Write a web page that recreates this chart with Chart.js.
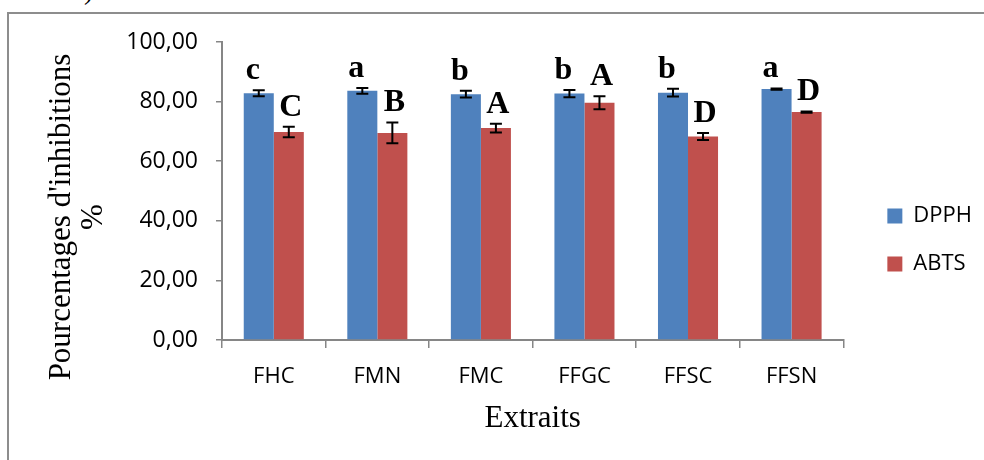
<!DOCTYPE html>
<html>
<head>
<meta charset="utf-8">
<script src="https://cdn.jsdelivr.net/npm/chart.js@4.4.1/dist/chart.umd.min.js"></script>
<style>
  html, body { margin: 0; padding: 0; background: #fff; overflow: hidden; }
  #wrap { position: relative; width: 984px; height: 460px; overflow: hidden; }
  #frame { position: absolute; left: 7px; top: 12px; width: 1100px; height: 600px; border: 2px solid #8d8d8d; }
  #cut { position: absolute; left: 84px; top: -26px; font: 28px "Liberation Serif", serif; }
  canvas { position: absolute; left: 0; top: 0; }
</style>
</head>
<body>
<div id="wrap">
  <div id="cut">)</div>
  <div id="frame"></div>
  <canvas id="chart" width="984" height="460"></canvas>
</div>
<script>
// data
const categories = ["FHC", "FMN", "FMC", "FFGC", "FFSC", "FFSN"];
const dpph = [82.8, 83.6, 82.5, 82.7, 83.0, 84.2];
const dpphErr = [1.0, 1.0, 1.1, 1.2, 1.3, 0.2];
const dpphLetters = ["c", "a", "b", "b", "b", "a"];
const abts = [69.8, 69.5, 71.1, 79.6, 68.3, 76.5];
const abtsErr = [1.8, 3.5, 1.5, 2.2, 1.2, 0.2];
const abtsLetters = ["C", "B", "A", "A", "D", "D"];
const yTickLabels = ["0,00", "20,00", "40,00", "60,00", "80,00", "100,00"];

const axisGray = "#868686";
const letterShift = [-6, 2];

// error bars + significance letters on top of each bar
const errorBarsAndLetters = {
  id: "errorBarsAndLetters",
  afterDatasetsDraw(chart) {
    const ctx = chart.ctx;
    const y = chart.scales.y;
    chart.data.datasets.forEach((ds, i) => {
      chart.getDatasetMeta(i).data.forEach((bar, j) => {
        const hi = y.getPixelForValue(ds.data[j] + ds.errors[j]);
        const lo = y.getPixelForValue(ds.data[j] - ds.errors[j]);
        ctx.save();
        ctx.strokeStyle = "#000";
        ctx.lineWidth = 2;
        ctx.beginPath();
        ctx.moveTo(bar.x, hi);
        ctx.lineTo(bar.x, lo);
        ctx.moveTo(bar.x - 6, hi);
        ctx.lineTo(bar.x + 6, hi);
        ctx.moveTo(bar.x - 6, lo);
        ctx.lineTo(bar.x + 6, lo);
        ctx.stroke();
        ctx.font = "bold 32px 'Liberation Serif'";
        ctx.textAlign = "center";
        ctx.textBaseline = "alphabetic";
        ctx.fillStyle = "#000";
        ctx.fillText(ds.letters[j], bar.x + letterShift[i], hi - 11);
        ctx.restore();
      });
    });
  },
};

// two-line rotated y title
const yTitle = {
  id: "yTitle",
  afterDraw(chart) {
    const ctx = chart.ctx;
    ctx.save();
    ctx.translate(70, 217);
    ctx.rotate(-Math.PI / 2);
    ctx.font = "31px 'Liberation Serif'";
    ctx.textAlign = "center";
    ctx.textBaseline = "alphabetic";
    ctx.fillStyle = "#000";
    ctx.fillText("Pourcentages d'inhibitions", 0, 0);
    ctx.fillText("%", 0, 32);
    ctx.restore();
  },
};

const ctx = document.getElementById("chart");

new Chart(ctx, {
  type: "bar",
  data: {
    labels: categories,
    datasets: [
      {
        label: "DPPH",
        data: dpph,
        errors: dpphErr,
        letters: dpphLetters,
        backgroundColor: "#4F81BD",
        borderWidth: 0,
      },
      {
        label: "ABTS",
        data: abts,
        errors: abtsErr,
        letters: abtsLetters,
        backgroundColor: "#C0504D",
        borderWidth: 0,
      },
    ],
  },
  options: {
    responsive: false,
    animation: false,
    events: [],
    categoryPercentage: 0.58,
    barPercentage: 1,
    layout: { padding: { top: 42, bottom: 22, left: 0, right: 2 } },
    plugins: {
      tooltip: { enabled: false },
      legend: {
        position: "right",
        align: "center",
        labels: {
          boxWidth: 15,
          boxHeight: 15,
          padding: 26,
          color: "#000",
          font: { family: "'Open Sans'", size: 22 },
        },
      },
    },
    scales: {
      x: {
        ticks: { color: "#000", font: { family: "'Open Sans'", size: 22 }, padding: 16 },
        grid: { drawOnChartArea: false, tickLength: 8, color: axisGray, lineWidth: 1.5, offset: true },
        border: { color: axisGray, width: 2 },
        title: {
          display: true,
          text: "Extraits",
          color: "#000",
          font: { family: "'Liberation Serif'", size: 31 },
          padding: { top: 0, bottom: 1 },
        },
        afterFit: (s) => { s.height = 98; },
      },
      y: {
        min: 0,
        max: 100,
        ticks: {
          stepSize: 20,
          color: "#000",
          font: { family: "'Open Sans'", size: 23 },
          padding: 18,
          callback: (v, i) => yTickLabels[i],
        },
        grid: { drawOnChartArea: false, tickLength: 6, color: axisGray, lineWidth: 1.5 },
        border: { color: axisGray, width: 2 },
        afterFit: (s) => { s.width = 222; },
      },
      spacer: {
        type: "linear",
        position: "right",
        ticks: { display: false },
        grid: { display: false },
        border: { display: false },
        afterFit: (s) => { s.width = 18; },
      },
    },
  },
  plugins: [errorBarsAndLetters, yTitle],
});
</script>
</body>
</html>
